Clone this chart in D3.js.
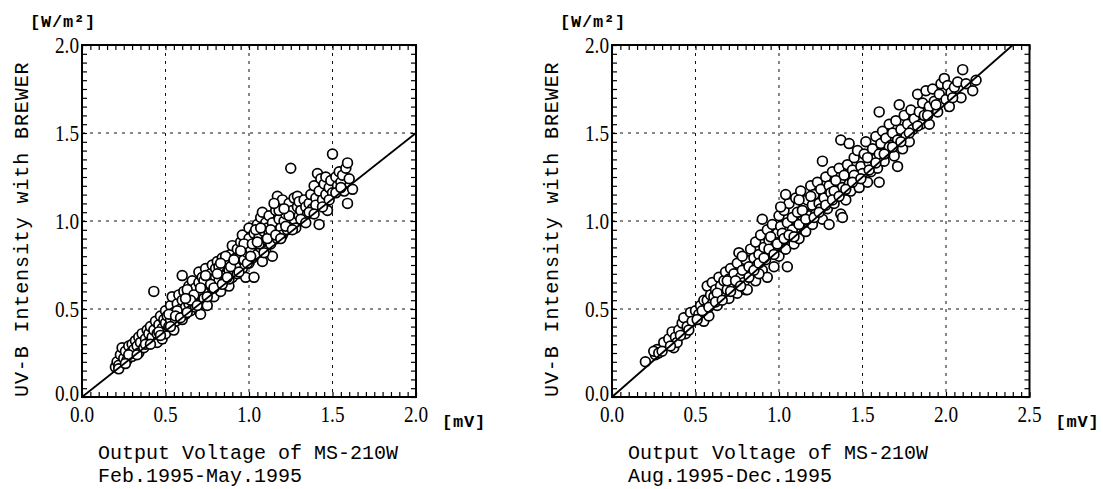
<!DOCTYPE html>
<html>
<head>
<meta charset="utf-8">
<script src="https://cdn.jsdelivr.net/npm/d3@7"></script>
<style>
  body { margin: 0; background: #fff; }
  svg { display: block; }
</style>
</head>
<body>
<svg id="chart" width="1103" height="489"></svg>
<script>
// Feb.1995-May.1995 : [output voltage mV, UV-B W/m2]
const febMay = [
  [0.20,0.17],[0.21,0.20],[0.22,0.18],[0.23,0.24],[0.24,0.28],[0.25,0.22],[0.26,0.26],[0.27,0.21],[0.28,0.29],[0.29,0.25],[0.30,0.30],[0.30,0.23],
  [0.31,0.27],[0.32,0.32],[0.33,0.29],[0.34,0.34],[0.34,0.25],[0.35,0.31],[0.36,0.36],[0.37,0.28],[0.38,0.33],[0.39,0.38],[0.40,0.31],[0.40,0.36],
  [0.41,0.40],[0.42,0.34],[0.43,0.60],[0.43,0.38],[0.44,0.43],[0.45,0.31],[0.45,0.36],[0.46,0.41],[0.47,0.46],[0.48,0.33],[0.48,0.39],[0.49,0.44],[0.50,0.49],[0.50,0.36],[0.50,0.42],
  [0.51,0.46],[0.52,0.40],[0.53,0.52],[0.53,0.44],[0.54,0.57],[0.55,0.48],[0.55,0.38],[0.56,0.43],[0.57,0.53],[0.58,0.47],[0.58,0.58],[0.59,0.50],[0.60,0.55],[0.60,0.44],[0.60,0.69],
  [0.61,0.60],[0.62,0.51],[0.62,0.47],[0.63,0.57],[0.64,0.63],[0.64,0.53],[0.65,0.49],[0.66,0.60],[0.66,0.66],[0.67,0.55],[0.68,0.62],[0.68,0.51],[0.69,0.58],[0.70,0.65],[0.70,0.53],[0.71,0.47],[0.70,0.71],
  [0.72,0.60],[0.72,0.68],[0.73,0.56],[0.74,0.73],[0.74,0.63],[0.75,0.52],[0.76,0.66],[0.76,0.59],[0.77,0.70],[0.78,0.75],[0.78,0.62],[0.79,0.57],[0.80,0.68],[0.80,0.73],[0.80,0.63],
  [0.81,0.77],[0.82,0.66],[0.83,0.71],[0.83,0.60],[0.84,0.79],[0.85,0.74],[0.85,0.65],[0.86,0.69],[0.87,0.77],[0.88,0.72],[0.88,0.63],[0.89,0.81],[0.90,0.75],[0.90,0.68],[0.90,0.86],
  [0.91,0.72],[0.92,0.79],[0.93,0.84],[0.93,0.70],[0.94,0.76],[0.95,0.88],[0.95,0.81],[0.96,0.92],[0.96,0.73],[0.97,0.78],[0.98,0.85],[0.98,0.68],[0.99,0.82],[1.00,0.90],[1.00,0.76],[1.00,0.96],
  [1.01,0.84],[1.02,0.79],[1.03,0.93],[1.03,0.68],[1.04,0.87],[1.05,0.98],[1.05,0.81],[1.06,0.91],[1.07,1.02],[1.07,0.85],[1.08,1.05],[1.08,0.77],[1.09,0.94],[1.10,0.89],[1.10,0.99],[1.10,0.83],
  [1.11,0.96],[1.12,1.03],[1.13,0.87],[1.14,0.80],[1.14,0.99],[1.15,0.93],[1.16,1.06],[1.17,1.14],[1.17,0.90],[1.18,1.01],[1.19,0.96],[1.20,1.08],[1.20,0.92],[1.20,1.12],
  [1.21,1.00],[1.22,1.04],[1.23,0.95],[1.24,1.10],[1.25,1.30],[1.25,0.98],[1.26,1.06],[1.27,1.13],[1.27,1.01],[1.28,0.96],[1.29,1.14],[1.29,1.08],[1.30,1.03],[1.30,1.11],
  [1.31,1.06],[1.32,1.00],[1.33,1.12],[1.34,1.08],[1.35,1.04],[1.36,1.10],[1.37,1.15],[1.38,1.07],[1.39,1.20],[1.40,1.13],[1.40,1.09],
  [1.41,1.27],[1.42,0.98],[1.42,1.17],[1.43,1.24],[1.44,1.12],[1.45,1.21],[1.46,1.25],[1.46,1.15],[1.47,1.06],[1.48,1.19],[1.49,1.23],[1.50,1.38],[1.50,1.16],
  [1.52,1.25],[1.53,1.20],[1.54,1.28],[1.55,1.22],[1.56,1.26],[1.57,1.17],[1.58,1.30],[1.59,1.10],[1.59,1.33],[1.60,1.24],[1.62,1.18],
  [0.57,0.49],[0.63,0.61],[0.67,0.58],[0.73,0.66],[0.82,0.74],[0.86,0.80],[0.92,0.74],[0.97,0.87],[1.04,0.95],[1.12,0.93],
  [1.18,1.06],[0.46,0.37],[0.38,0.30],[0.28,0.24],[0.52,0.47],[0.77,0.64],[0.88,0.67],[1.06,0.87],[1.15,1.10],[1.24,1.03],
  [0.22,0.16],[0.26,0.19],[0.33,0.24],[0.41,0.30],[0.47,0.35],[0.53,0.40],[0.56,0.46],[0.59,0.45],[0.63,0.48],[0.65,0.55],
  [0.69,0.52],[0.71,0.62],[0.75,0.57],[0.79,0.62],[0.81,0.70],[0.84,0.64],[0.87,0.68],[0.89,0.74],[0.91,0.78],[0.94,0.71],
  [0.99,0.76],[1.01,0.80],[1.02,0.87],[1.05,0.88],[1.09,0.82],[1.11,0.90],[1.13,0.95],[1.16,0.92],[1.19,0.90],[1.22,0.97],
  [1.26,0.95],[1.31,1.01],[1.34,0.99],[1.36,1.05],[1.39,1.04],[1.44,1.08],[1.48,1.12],[1.52,1.16],[1.55,1.19],[0.62,0.56],
  [0.74,0.69],[0.83,0.76],[0.95,0.83],[1.07,0.96],[1.21,1.07]
];

// Aug.1995-Dec.1995
const augDec = [
  [0.20,0.20],[0.26,0.24],[0.27,0.27],[0.25,0.26],[0.28,0.25],[0.31,0.31],[0.34,0.33],[0.36,0.37],[0.37,0.28],[0.38,0.34],[0.39,0.31],[0.40,0.38],
  [0.42,0.42],[0.43,0.45],[0.44,0.36],[0.45,0.40],[0.47,0.48],[0.48,0.43],[0.50,0.49],[0.52,0.47],[0.53,0.52],[0.55,0.43],[0.55,0.55],[0.56,0.50],[0.57,0.55],[0.57,0.63],[0.58,0.46],[0.59,0.58],[0.60,0.53],[0.60,0.65],
  [0.61,0.57],[0.62,0.61],[0.63,0.52],[0.64,0.68],[0.65,0.63],[0.66,0.58],[0.67,0.66],[0.68,0.71],[0.69,0.61],[0.70,0.56],[0.70,0.67],[0.71,0.73],[0.72,0.64],[0.73,0.70],[0.74,0.60],[0.75,0.59],[0.75,0.76],[0.76,0.82],[0.77,0.68],[0.78,0.72],[0.79,0.65],[0.80,0.78],[0.80,0.61],
  [0.81,0.61],[0.82,0.74],[0.83,0.84],[0.84,0.70],[0.85,0.79],[0.86,0.88],[0.86,0.66],[0.87,0.75],[0.88,0.81],[0.89,0.92],[0.90,0.72],[0.90,1.01],[0.91,0.85],[0.92,0.78],[0.93,0.68],[0.93,0.95],[0.94,0.89],[0.95,0.82],[0.96,0.98],[0.97,0.74],[0.98,0.86],[0.99,0.93],[1.00,0.80],[1.00,1.03],
  [1.01,0.97],[1.02,0.89],[1.03,1.06],[1.04,0.84],[1.05,0.74],[1.05,0.99],[1.06,1.10],[1.07,0.92],[1.08,1.02],[1.09,0.87],[1.10,1.13],[1.10,0.96],[1.11,1.05],[1.12,0.90],[1.13,1.17],[1.14,1.00],[1.15,1.08],[1.16,0.94],[1.17,1.12],[1.18,1.03],[1.19,1.20],[1.20,0.98],[1.20,1.09],
  [1.21,1.15],[1.22,1.04],[1.23,1.22],[1.24,1.10],[1.25,1.18],[1.26,1.34],[1.26,1.01],[1.27,1.13],[1.28,1.25],[1.29,1.07],[1.30,0.98],[1.30,1.20],[1.31,1.16],[1.32,1.28],[1.33,1.10],[1.34,1.23],[1.35,1.15],[1.36,1.30],[1.37,1.46],[1.37,1.04],[1.38,1.02],[1.38,1.19],[1.39,1.26],[1.40,1.12],
  [1.41,1.32],[1.42,1.44],[1.42,1.21],[1.43,1.17],[1.44,1.29],[1.45,1.36],[1.46,1.24],[1.47,1.40],[1.48,1.19],[1.49,1.31],[1.50,1.27],[1.51,1.38],[1.52,1.45],[1.53,1.22],[1.54,1.33],[1.55,1.28],[1.56,1.41],[1.57,1.35],[1.58,1.48],[1.59,1.30],[1.60,1.62],[1.60,1.22],[1.60,1.38],
  [1.61,1.44],[1.62,1.51],[1.63,1.34],[1.64,1.47],[1.65,1.39],[1.66,1.55],[1.67,1.43],[1.68,1.50],[1.69,1.37],[1.70,1.57],[1.71,1.31],[1.71,1.46],[1.72,1.66],[1.73,1.52],[1.74,1.41],[1.75,1.60],[1.76,1.48],[1.77,1.55],[1.78,1.45],[1.79,1.63],[1.80,1.52],
  [1.81,1.58],[1.83,1.72],[1.84,1.62],[1.85,1.55],[1.86,1.67],[1.87,1.60],[1.88,1.74],[1.90,1.55],[1.90,1.65],[1.92,1.75],[1.93,1.68],[1.95,1.62],[1.96,1.72],[1.97,1.78],[1.99,1.81],[2.00,1.69],
  [2.01,1.77],[2.02,1.65],[2.03,1.73],[2.05,1.76],[2.07,1.79],[2.09,1.70],[2.10,1.86],[2.12,1.78],[2.16,1.74],[2.18,1.80],
  [0.88,0.70],[0.95,0.91],[1.02,0.93],[1.08,0.95],[1.14,1.06],[1.19,1.14],[0.78,0.80],[0.69,0.66],[0.63,0.59],[1.25,1.07],
  [1.33,1.17],[1.45,1.26],[1.53,1.36],[1.66,1.42],
  [0.30,0.26],[0.35,0.29],[0.41,0.35],[0.46,0.38],[0.51,0.44],[0.54,0.49],[0.58,0.51],[0.62,0.54],[0.66,0.55],[0.71,0.60],
  [0.74,0.66],[0.77,0.63],[0.82,0.68],[0.85,0.72],[0.88,0.76],[0.91,0.79],[0.94,0.84],[0.97,0.81],[0.99,0.87],[1.03,0.90],
  [1.06,0.92],[1.09,0.91],[1.12,0.98],[1.16,1.01],[1.21,1.02],[1.24,1.05],[1.28,1.09],[1.32,1.12],[1.36,1.14],[1.40,1.18],
  [1.44,1.22],[1.49,1.24],[1.54,1.29],[1.58,1.33],[1.63,1.38],[1.68,1.42],[1.73,1.45],[1.78,1.50],[1.83,1.54],[1.89,1.60],
  [1.94,1.66],[2.04,1.70],[1.01,1.08],[1.12,1.12],[1.04,1.15]
];

// regression lines (endpoints)
const febMayFit = [[0, 0], [2.0, 1.5]];
const augDecFit = [[0, 0], [2.4, 2.0]];

const yTickLabels = ["0.0", "0.5", "1.0", "1.5", "2.0"];
const xTickLabelsFeb = ["0.0", "0.5", "1.0", "1.5", "2.0"];
const xTickLabelsAug = ["0.0", "0.5", "1.0", "1.5", "2.0", "2.5"];

const yTitle = "UV-B Intensity with BREWER";
const xTitle = "Output Voltage of MS-210W";
const yUnit = "[W/m²]";
const xUnit = "[mV]";

const svg = d3.select("#chart");
const plotTop = 45, plotBottom = 397;
const pxPerMv = 167;
const serif = "'Liberation Serif', 'Times New Roman', serif";
const mono = "'Liberation Mono', 'DejaVu Sans Mono', monospace";

function drawPanel(left, xLabels, pts, fit, period, titleX) {
  const xMax = +xLabels[xLabels.length - 1];
  const right = left + xMax * pxPerMv;
  const x = d3.scaleLinear().domain([0, xMax]).range([left, right]);
  const y = d3.scaleLinear().domain([0, 2]).range([plotBottom, plotTop]);
  const g = svg.append("g");

  // dashed grid at every 0.5
  g.selectAll(".gx").data(d3.range(0.5, xMax - 0.01, 0.5)).enter()
    .append("line")
    .attr("x1", d => x(d)).attr("x2", d => x(d))
    .attr("y1", plotTop).attr("y2", plotBottom)
    .attr("stroke", "#111").attr("stroke-width", 1).attr("stroke-dasharray", "3,5");
  g.selectAll(".gy").data([0.5, 1.0, 1.5]).enter()
    .append("line")
    .attr("x1", left).attr("x2", right)
    .attr("y1", d => y(d)).attr("y2", d => y(d))
    .attr("stroke", "#111").attr("stroke-width", 1).attr("stroke-dasharray", "3,5");

  // minor ticks inside on all four sides, every 0.05
  const xt = d3.range(0, xMax + 0.001, 0.05);
  const yt = d3.range(0, 2.001, 0.05);
  const noDomain = a => a.select(".domain").remove();
  g.append("g").attr("transform", `translate(0,${plotBottom})`)
    .call(d3.axisBottom(x).tickValues(xt).tickSizeInner(-5).tickSizeOuter(0).tickFormat("")).call(noDomain);
  g.append("g").attr("transform", `translate(0,${plotTop})`)
    .call(d3.axisTop(x).tickValues(xt).tickSizeInner(-5).tickSizeOuter(0).tickFormat("")).call(noDomain);
  g.append("g").attr("transform", `translate(${left},0)`)
    .call(d3.axisLeft(y).tickValues(yt).tickSizeInner(-5).tickSizeOuter(0).tickFormat("")).call(noDomain);
  g.append("g").attr("transform", `translate(${right},0)`)
    .call(d3.axisRight(y).tickValues(yt).tickSizeInner(-5).tickSizeOuter(0).tickFormat("")).call(noDomain);
  g.selectAll(".tick line").attr("stroke", "#000").attr("stroke-width", 1.2);

  // points
  g.selectAll("circle").data(pts).enter()
    .append("circle")
    .attr("cx", d => x(d[0])).attr("cy", d => y(d[1]))
    .attr("r", 4.9)
    .attr("fill", "#fff").attr("stroke", "#000").attr("stroke-width", 1.7);

  // fit line
  g.append("path").datum(fit)
    .attr("d", d3.line().x(d => x(d[0])).y(d => y(d[1])))
    .attr("fill", "none").attr("stroke", "#000").attr("stroke-width", 1.8);

  // frame
  g.append("rect")
    .attr("x", left).attr("y", plotTop)
    .attr("width", right - left).attr("height", plotBottom - plotTop)
    .attr("fill", "none").attr("stroke", "#000").attr("stroke-width", 2);

  // tick labels (condensed serif)
  g.selectAll(".xl").data(xLabels).enter()
    .append("text")
    .attr("transform", d => `translate(${x(+d)},422) scale(0.8,1)`)
    .attr("text-anchor", "middle")
    .style("font-family", serif).style("font-size", "24px")
    .text(d => d);
  g.selectAll(".yl").data(yTickLabels).enter()
    .append("text")
    .attr("transform", d => `translate(${left - 3},${y(+d) + (+d === 0 ? 4 : 8)}) scale(0.8,1)`)
    .attr("text-anchor", "end")
    .style("font-family", serif).style("font-size", "24px")
    .text(d => d);

  // axis titles and units
  g.append("text")
    .attr("transform", `translate(${left - 54},${plotBottom}) rotate(-90)`)
    .style("font-family", mono).style("font-size", "20px").style("letter-spacing", "0.9px")
    .text(yTitle);
  g.append("text")
    .attr("x", left - 52).attr("y", 27)
    .style("font-family", mono).style("font-size", "17px").style("font-weight", "bold").style("letter-spacing", "0.8px")
    .text(yUnit);
  g.append("text")
    .attr("x", right + 26).attr("y", 427)
    .style("font-family", mono).style("font-size", "17px").style("font-weight", "bold").style("letter-spacing", "0.8px")
    .text(xUnit);
  g.append("text")
    .attr("x", titleX).attr("y", 459)
    .style("font-family", mono).style("font-size", "20px")
    .text(xTitle);
  g.append("text")
    .attr("x", titleX).attr("y", 482)
    .style("font-family", mono).style("font-size", "20px")
    .text(period);
}

drawPanel(82, xTickLabelsFeb, febMay, febMayFit, "Feb.1995-May.1995", 98);
drawPanel(612, xTickLabelsAug, augDec, augDecFit, "Aug.1995-Dec.1995", 628);
</script>
</body>
</html>
